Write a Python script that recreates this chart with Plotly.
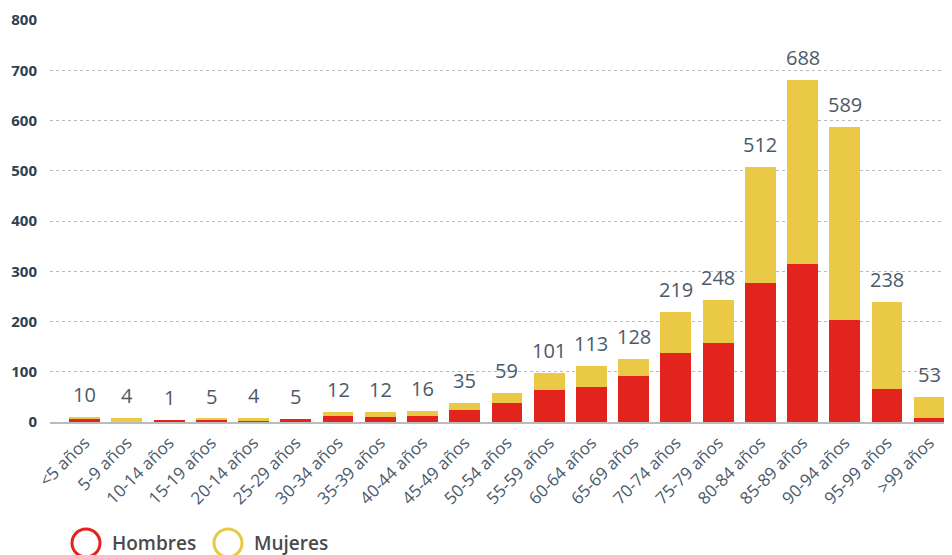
import plotly.graph_objects as go

# Données
grupos = ['<5 años', '5-9 años', '10-14 años', '15-19 años', '20-14 años', '25-29 años',
          '30-34 años', '35-39 años', '40-44 años', '45-49 años', '50-54 años', '55-59 años',
          '60-64 años', '65-69 años', '70-74 años', '75-79 años', '80-84 años', '85-89 años',
          '90-94 años', '95-99 años', '>99 años']
hombres = [6, 0, 4, 4, 2, 6, 12, 10, 12, 24, 38, 64, 70, 92, 138, 158, 277, 314, 203, 66, 8]
mujeres = [4, 7, 0, 2, 6, 0, 7, 9, 10, 14, 20, 34, 42, 33, 81, 85, 231, 367, 384, 173, 42]
totales = [10, 4, 1, 5, 4, 5, 12, 12, 16, 35, 59, 101, 113, 128, 219, 248, 512, 688, 589, 238, 53]

rojo = '#E3241E'
amarillo = '#E9C945'
texto = '#4B5A6B'

# la page html ajoute 8px de marge autour de la figure
W, H = 944, 547
L, T, R, B = 42, 12, 2, 133

fig = go.Figure()
fig.add_trace(go.Bar(x=grupos, y=hombres, name='Hombres', marker_color=rojo, marker_line_width=0))
fig.add_trace(go.Bar(x=grupos, y=mujeres, name='Mujeres', marker_color=amarillo, marker_line_width=0))

# etiquettes des totaux au-dessus des barres
cumul = [h + m for h, m in zip(hombres, mujeres)]
annots = []
for g, c, t in zip(grupos, cumul, totales):
    annots.append(dict(x=g, y=c, text=str(t), showarrow=False, yanchor='bottom', yshift=7,
                       font=dict(family='Open Sans', size=20, color=texto)))

fig.update_layout(
    barmode='stack', bargap=0.27,
    width=W, height=H,
    margin=dict(l=L, r=R, t=T, b=B),
    plot_bgcolor='white', paper_bgcolor='white',
    showlegend=False,
    font=dict(family='Open Sans', color=texto),
)
fig.update_yaxes(range=[0, 800], dtick=100, showgrid=True, gridcolor='#BBBBBB', griddash='dot',
                 gridwidth=1, zeroline=False, showline=False,
                 tickfont=dict(family='Open Sans', size=15, color='#2F4050', weight='bold'),
                 ticklabelstandoff=12)
fig.update_xaxes(range=[-0.82, 20.49], tickangle=-45, showline=True, linecolor='#BBBBBB', linewidth=2,
                 tickfont=dict(family='Open Sans', size=17, color=texto), ticks='',
                 ticklabelstandoff=2)

# légende manuelle : cercles vides
pw = W - L - R
ph = H - T - B
yl = -(535 - (H - B)) / ph
for xc, col in [(78, rojo), (220, amarillo)]:
    fig.add_shape(type='circle', xref='paper', yref='paper', xsizemode='pixel', ysizemode='pixel',
                  xanchor=(xc - L) / pw, yanchor=yl,
                  x0=-14, x1=14, y0=-14, y1=14, line=dict(color=col, width=3))
for xt, lab in [(102, 'Hombres'), (244, 'Mujeres')]:
    annots.append(dict(text=lab, xref='paper', yref='paper', x=(xt - L) / pw, y=yl, showarrow=False,
                       xanchor='left', yanchor='middle',
                       font=dict(family='Open Sans', size=19, color='#4A4A4C', weight=600)))
fig.update_layout(annotations=annots)

fig.write_html('out.html')
